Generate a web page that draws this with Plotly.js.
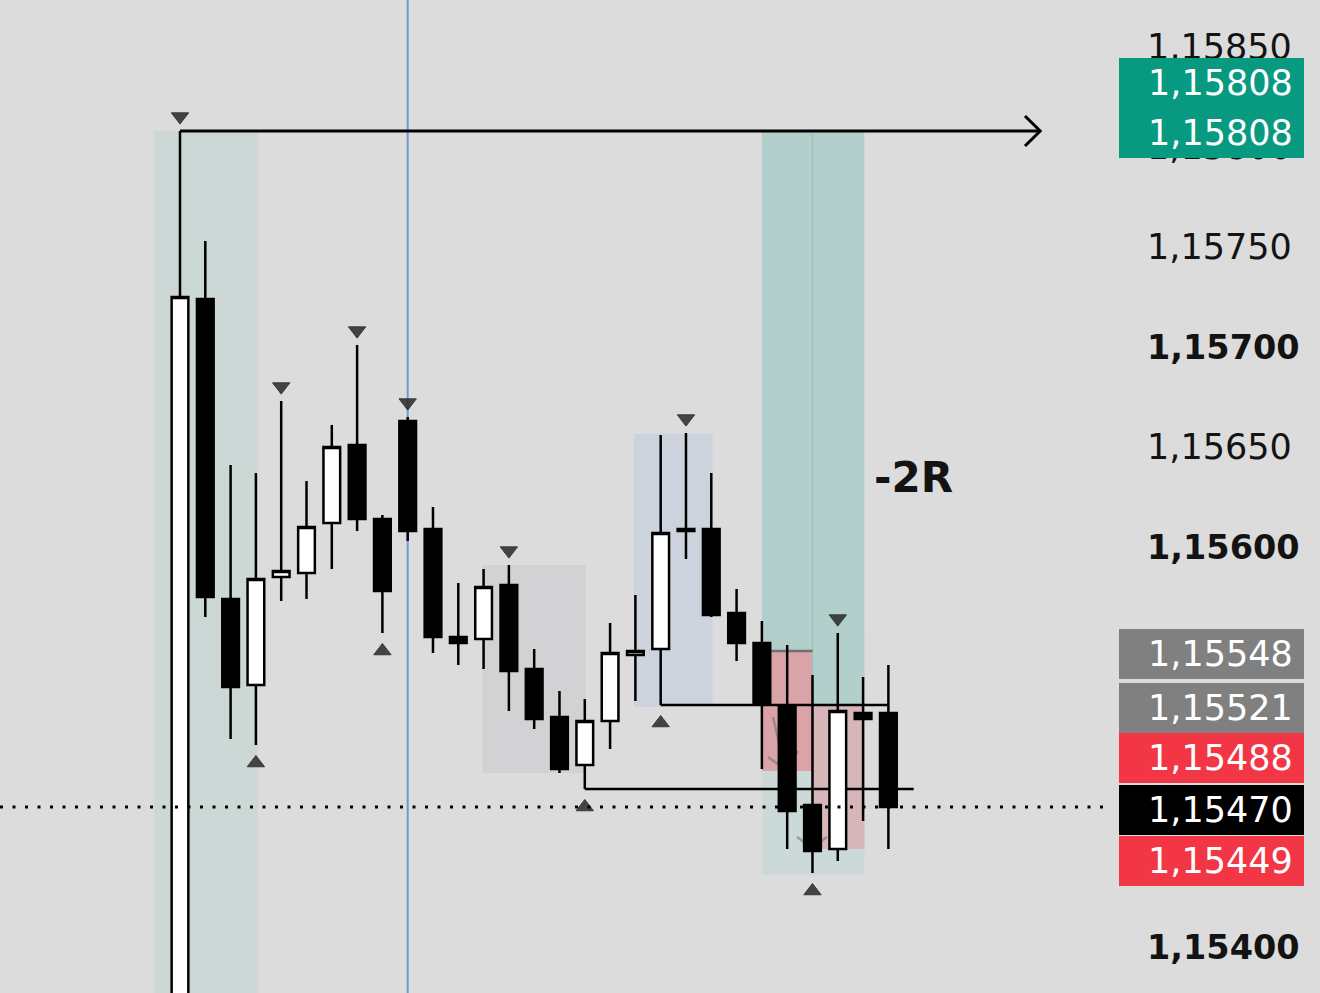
<!DOCTYPE html>
<html>
<head>
<meta charset="utf-8">
<script src="https://cdn.plot.ly/plotly-3.0.1.min.js"></script>
<style>
html,body{margin:0;padding:0;background:#dcdcdc;}
#chart{width:1320px;height:993px;}
</style>
</head>
<body>
<div id="chart"></div>
<script>
// ---- data ----
const opens  = [1.15360,1.15724,1.15574,1.15531,1.15585,1.15587,1.15612,1.15651,1.15614,1.15663,1.15609,1.15555,1.15554,1.15581,1.15539,1.15515,1.15491,1.15513,1.15546,1.15549,1.15609,1.15609,1.15567,1.15552,1.15520,1.15471,1.15449,1.15517,1.15517];
const highs  = [1.15808,1.15753,1.15641,1.15637,1.15673,1.15633,1.15661,1.15701,1.15616,1.15665,1.15620,1.15582,1.15589,1.15591,1.15549,1.15528,1.15524,1.15562,1.15576,1.15656,1.15657,1.15637,1.15579,1.15563,1.15551,1.15536,1.15557,1.15535,1.15541];
const lows   = [1.15350,1.15565,1.15504,1.15501,1.15573,1.15574,1.15589,1.15608,1.15557,1.15603,1.15547,1.15541,1.15539,1.15518,1.15509,1.15487,1.15479,1.15499,1.15523,1.15521,1.15594,1.15565,1.15543,1.15489,1.15449,1.15437,1.15443,1.15463,1.15449];
const closes = [1.15725,1.15575,1.15530,1.15584,1.15588,1.15610,1.15650,1.15614,1.15578,1.15608,1.15555,1.15552,1.15580,1.15538,1.15514,1.15489,1.15513,1.15547,1.15548,1.15607,1.15608,1.15566,1.15552,1.15522,1.15468,1.15448,1.15518,1.15514,1.15470];
const bars = opens.map((_, i) => i);

const pivotHighIdx = [0,4,7,9,13,20,26];
const pivotLowIdx  = [3,8,16,19,25];

// ticks visible on the price scale (the others sit under the price labels)
const tickValues = [1.15400,1.15600,1.15650,1.15700,1.15750,1.15800,1.15850];
const boldTicks  = [1.15400,1.15600,1.15700];

const labelValues = [1.15808,1.15808,1.15548,1.15521,1.15488,1.15470,1.15449];
const labelColors = ['#089981','#089981','#808080','#808080','#f23645','#000000','#f23645'];
const labelShift  = [48,-2,-3,-3,13,-3,-12];

const lastPrice = 1.15470;
const targetLevel = 1.15808;
const fmt = v => v.toFixed(5).replace('.', ',');
const FONT = '"DejaVu Sans", Inter, sans-serif';

// ---- traces ----
const candles = {
  type:'candlestick', x:bars, open:opens, high:highs, low:lows, close:closes,
  increasing:{line:{color:'#000',width:2.5}, fillcolor:'#ffffff'},
  decreasing:{line:{color:'#000',width:2.5}, fillcolor:'#000000'},
  whiskerwidth:0, hoverinfo:'skip', showlegend:false
};
const pivH = {
  type:'scatter', mode:'markers', x:pivotHighIdx, y:pivotHighIdx.map(i=>highs[i]+0.000072),
  marker:{symbol:'triangle-down', size:15, color:'#2e2e2e', opacity:0.88, line:{width:1,color:'#222'}},
  hoverinfo:'skip', showlegend:false
};
const pivL = {
  type:'scatter', mode:'markers', x:pivotLowIdx, y:pivotLowIdx.map(i=>lows[i]-0.00009),
  marker:{symbol:'triangle-up', size:15, color:'#2e2e2e', opacity:0.88, line:{width:1,color:'#222'}},
  hoverinfo:'skip', showlegend:false
};

// ---- drawings ----
const shapes = [
  {type:'rect', layer:'below', xref:'x', yref:'y', x0:-1.02, x1:3.08, y0:1.15300, y1:targetLevel, fillcolor:'#ccd8d6', line:{width:0}},
  {type:'rect', layer:'below', xref:'x', yref:'y', x0:11.95, x1:16.05, y0:1.15487, y1:1.15591, fillcolor:'#d2d2d4', line:{width:0}},
  {type:'rect', layer:'below', xref:'x', yref:'y', x0:17.95, x1:21.05, y0:1.15520, y1:1.156565, fillcolor:'#ccd3dc', line:{width:0}},
  {type:'rect', layer:'below', xref:'x', yref:'y', x0:23, x1:27.05, y0:1.15436, y1:1.15557, fillcolor:'#cbdad8', line:{width:0}},
  {type:'rect', layer:'below', xref:'x', yref:'y', x0:23, x1:25, y0:1.15548, y1:targetLevel, fillcolor:'#b3cfcb', line:{width:0}},
  {type:'rect', layer:'below', xref:'x', yref:'y', x0:23, x1:25, y0:1.15488, y1:1.15548, fillcolor:'#d9a3a8', line:{width:0}},
  {type:'rect', layer:'below', xref:'x', yref:'y', x0:25, x1:27.05, y0:1.15521, y1:targetLevel, fillcolor:'#b3cfcb', line:{width:0}},
  {type:'rect', layer:'below', xref:'x', yref:'y', x0:25, x1:27.05, y0:1.15449, y1:1.15521, fillcolor:'#d6b6b9', line:{width:0}},
  {type:'line', layer:'below', xref:'x', yref:'y', x0:25, x1:25, y0:1.15521, y1:targetLevel, line:{color:'#97c3bd', width:1.5}},
  {type:'line', layer:'below', xref:'x', yref:'y', x0:23, x1:25, y0:1.15548, y1:1.15548, line:{color:'#6f6f6f', width:2.5}},
  // faint position arrows
  {type:'path', layer:'below', xref:'x', yref:'y', path:'M 23.44,1.15515 L 23.9,1.15490', line:{color:'rgba(110,110,110,0.55)', width:2.5}},
  {type:'path', layer:'below', xref:'x', yref:'y', path:'M 23.24,1.15495 L 23.9,1.15489 L 24.43,1.15498', line:{color:'rgba(110,110,110,0.55)', width:2.5}},
  {type:'path', layer:'below', xref:'x', yref:'y', path:'M 24.39,1.15455 L 24.98,1.154495 L 25.57,1.15455', line:{color:'rgba(110,110,110,0.55)', width:2.5}},
  // swing lines
  {type:'line', layer:'below', xref:'x', yref:'y', x0:19, x1:28, y0:1.15521, y1:1.15521, line:{color:'#000', width:2.5}},
  {type:'line', layer:'below', xref:'x', yref:'y', x0:16, x1:29, y0:1.15479, y1:1.15479, line:{color:'#000', width:2.5}},
  // blue vertical
  {type:'line', layer:'below', xref:'x', yref:'paper', x0:9, x1:9, y0:0, y1:1, line:{color:'#6b9bd6', width:2}},
  // arrow drawing
  {type:'line', layer:'below', xref:'x', yref:'y', x0:0, x1:34, y0:targetLevel, y1:targetLevel, line:{color:'#000', width:3}},
  {type:'path', layer:'below', xref:'x', yref:'y', path:'M 33.4,1.158155 L 34,'+targetLevel+' L 33.4,1.158005', line:{color:'#000', width:3}},
  // last price dotted line
  {type:'line', layer:'above', xref:'paper', yref:'y', x0:0, x1:1, y0:lastPrice, y1:lastPrice, line:{color:'#000', width:3, dash:'3px,9.5px'}}
];

const annotations = [
  {xref:'x', yref:'y', x:29, y:1.15635, text:'<b>-2R</b>', showarrow:false, font:{family:FONT, size:42, color:'#131313'}}
];

labelValues.forEach((v, k) => {
  shapes.push({type:'rect', layer:'above', xref:'paper', yref:'y', xsizemode:'pixel', ysizemode:'pixel',
    xanchor:1, yanchor:v, x0:9, x1:194, y0:labelShift[k]-25, y1:labelShift[k]+25,
    fillcolor:labelColors[k], line:{width:0}});
  annotations.push({xref:'paper', yref:'y', x:1, y:v, xanchor:'left', yanchor:'middle', xshift:36, yshift:labelShift[k],
    text:fmt(v), showarrow:false, font:{family:FONT, size:35, color:'#ffffff'}});
});

const layout = {
  width:1320, height:993,
  margin:{l:0, r:210, t:0, b:0, pad:0},
  paper_bgcolor:'#dcdcdc', plot_bgcolor:'#dcdcdc',
  showlegend:false, hovermode:false,
  boxgap:0.34, boxgroupgap:0,
  xaxis:{range:[-7.115, 36.76], visible:false, rangeslider:{visible:false}, fixedrange:true},
  yaxis:{side:'right', range:[1.15377, 1.158735], showgrid:false, zeroline:false, showline:false, ticks:'',
    tickvals:tickValues,
    ticktext:tickValues.map(v => boldTicks.includes(v) ? '<span style="font-weight:bold;font-size:33.5px">'+fmt(v)+'</span>' : fmt(v)),
    ticklabelstandoff:36,
    tickfont:{family:FONT, size:35, color:'#131313'}, fixedrange:true},
  shapes:shapes,
  annotations:annotations
};

Plotly.newPlot('chart', [candles, pivH, pivL], layout, {staticPlot:true, displayModeBar:false});
</script>
</body>
</html>
